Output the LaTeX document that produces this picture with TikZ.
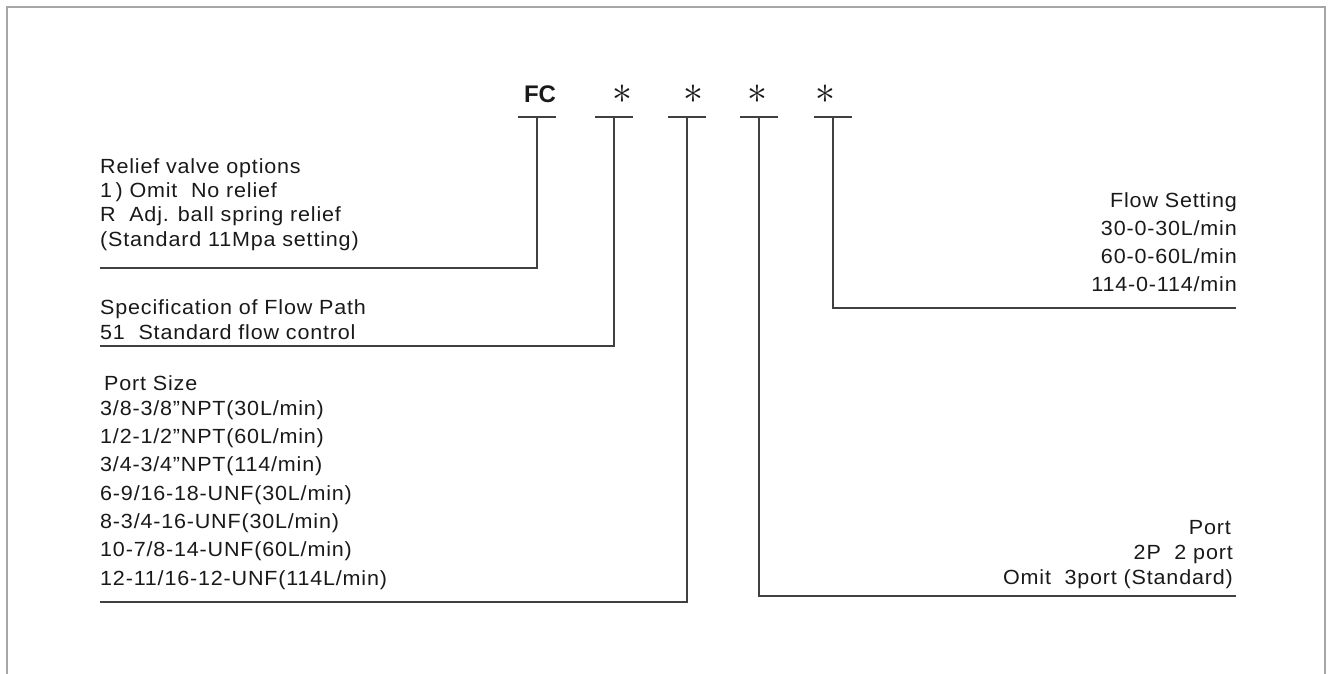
\documentclass[tikz,border=0pt]{standalone}
\usepackage{fontspec}
\setmainfont{Liberation Sans}[FakeStretch=1.05,LetterSpace=4]
\newfontfamily\fcfont{Liberation Sans}
\begin{document}
\begin{tikzpicture}[x=1pt,y=-1pt,
  frame/.style={draw=black!35,line width=2.6pt},
  lead/.style={draw=black!75,line width=1.1pt},
  txt/.style={inner sep=0pt,font=\fontsize{20.5}{25}\selectfont,text=black!90},
  ltxt/.style={txt,align=left,anchor=base west},
  rtxt/.style={txt,align=right,anchor=base east},
  star/.style={inner sep=0pt,scale=1.6,font=\fontsize{24}{24}\selectfont,text=black!90}]
\useasboundingbox (0,0) rectangle (1328,674);
\draw[frame] (7,674) -- (7,7) -- (1325,7) -- (1325,674);
% code letters
\node[inner sep=0pt,font=\fcfont\bfseries\fontsize{24}{24}\selectfont,text=black!90] (fc) at (540,94) {FC};
\node[star] (s1) at (622,94) {$\ast$};
\node[star] (s2) at (693,94) {$\ast$};
\node[star] (s3) at (757,94) {$\ast$};
\node[star] (s4) at (825,94) {$\ast$};
% tick bars
\foreach \n/\x in {a/537,b/614,c/687,d/759,e/833}{
  \coordinate (bl\n) at (\x-19,117);
  \coordinate (br\n) at (\x+19,117);
  \coordinate (t\n) at (\x,117);
  \draw[lead] (bl\n) -- (br\n);
}
% elbows and ends
\coordinate (ka) at (537,268); \coordinate (ea) at (100,268);
\coordinate (kb) at (614,346); \coordinate (eb) at (100,346);
\coordinate (kc) at (687,602); \coordinate (ec) at (100,602);
\coordinate (kd) at (759,596); \coordinate (ed) at (1236,596);
\coordinate (ke) at (833,308); \coordinate (ee) at (1236,308);
\draw[lead] (ta) -- (ka) -- (ea);
\draw[lead] (tb) -- (kb) -- (eb);
\draw[lead] (tc) -- (kc) -- (ec);
\draw[lead] (td) -- (kd) -- (ed);
\draw[lead] (te) -- (ke) -- (ee);
% text blocks (anchor = baseline of last line)
\node[ltxt,font=\fontsize{20.5}{24.3}\selectfont] (relief) at (100,246) {Relief valve options\\1\,) Omit\ \ No relief\\R\ \ Adj. ball spring relief\\(Standard 11Mpa setting)};
\node[ltxt,font=\fontsize{20.5}{24.5}\selectfont] (spec) at (100,339) {Specification of Flow Path\\51\ \ Standard flow control};
\node[ltxt] (psh) at (104,390) {Port Size};
\node[ltxt,font=\fontsize{20.5}{28.3}\selectfont] (ps) at (100,585) {3/8-3/8"NPT(30L/min)\\1/2-1/2"NPT(60L/min)\\3/4-3/4"NPT(114/min)\\6-9/16-18-UNF(30L/min)\\8-3/4-16-UNF(30L/min)\\10-7/8-14-UNF(60L/min)\\12-11/16-12-UNF(114L/min)};
\node[rtxt,font=\fontsize{20.5}{28}\selectfont] (flow) at (1237,291) {Flow Setting\\30-0-30L/min\\60-0-60L/min\\114-0-114/min};
\node[rtxt] (porth) at (1231,534) {Port};
\node[rtxt,font=\fontsize{20.5}{25}\selectfont] (port) at (1233,584) {2P\ \ 2 port\\Omit\ \ 3port (Standard)};
\end{tikzpicture}
\end{document}
